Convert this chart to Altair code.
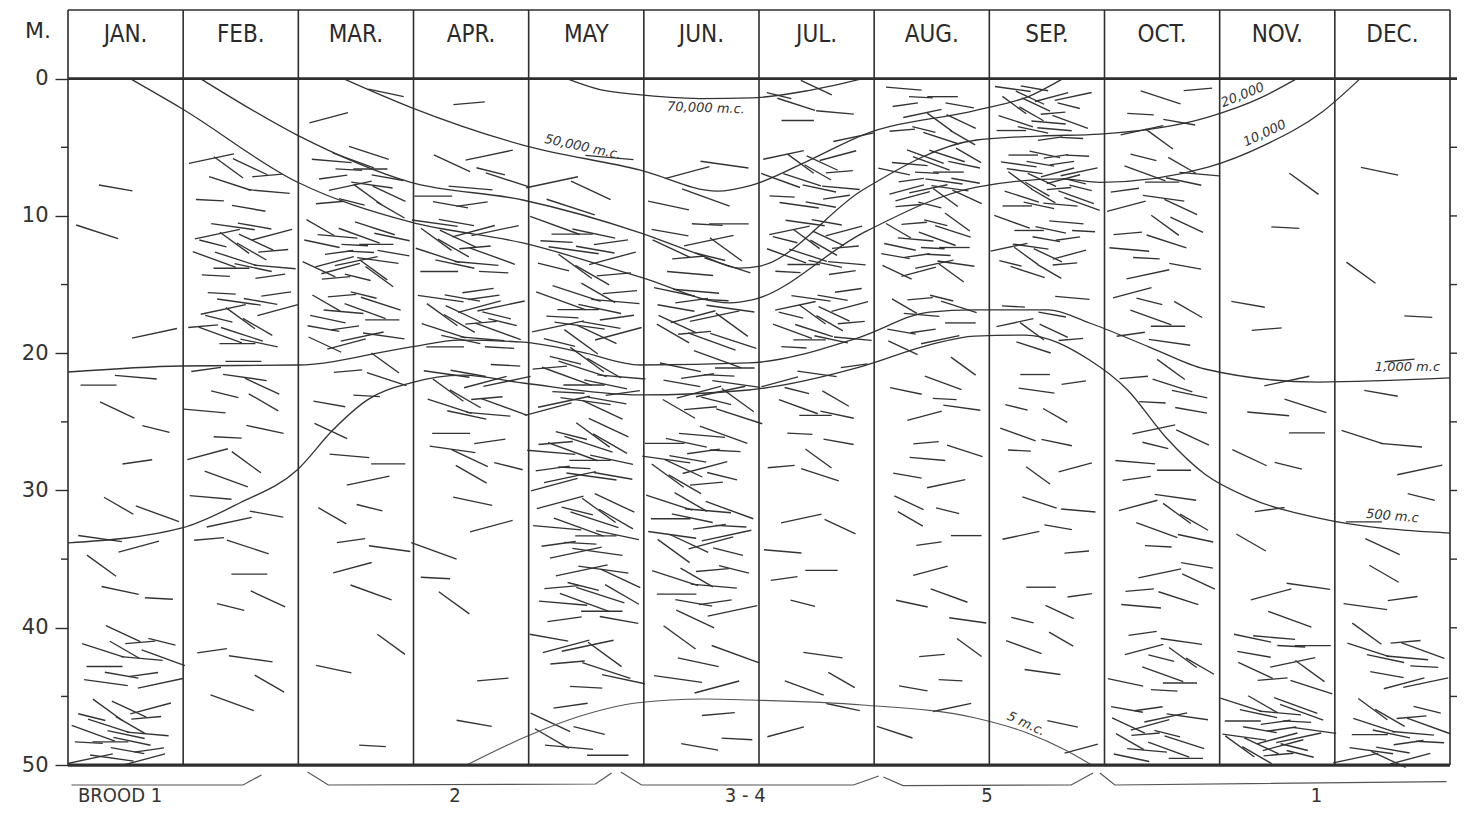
import altair as alt
import pandas as pd

# ---------------- data ----------------
months = ["JAN.", "FEB.", "MAR.", "APR.", "MAY", "JUN.", "JUL.", "AUG.", "SEP.", "OCT.", "NOV.", "DEC."]
depth_labels = [0, 10, 20, 30, 40, 50]
minor_left = [5, 15, 25, 35, 45]
right_ticks = [5, 10, 15, 20, 25, 30, 35, 40, 45]

# dashes counted per month (rows) and per 5 m depth band 0-5 ... 45-50 (columns)
dash_counts = [
    [0, 1, 1, 1, 3, 2, 4, 3, 12, 18],    # JAN
    [0, 8, 16, 14, 7, 5, 5, 3, 3, 1],    # FEB
    [2, 14, 20, 14, 5, 4, 4, 2, 2, 1],   # MAR
    [1, 8, 14, 18, 12, 6, 3, 2, 1, 1],   # APR
    [0, 4, 12, 16, 16, 16, 14, 12, 8, 6],# MAY
    [0, 4, 10, 14, 14, 14, 14, 10, 5, 3],# JUN
    [6, 14, 16, 16, 8, 5, 3, 3, 3, 2],   # JUL
    [12, 20, 18, 10, 6, 5, 5, 4, 4, 2],  # AUG
    [18, 24, 16, 8, 5, 5, 5, 4, 3, 2],   # SEP
    [6, 10, 8, 7, 6, 6, 7, 6, 10, 14],   # OCT
    [0, 1, 1, 2, 3, 3, 2, 3, 10, 22],    # NOV
    [0, 1, 1, 1, 2, 3, 3, 3, 10, 16],    # DEC
]
dash_angles = [10, 18, 348, 5, 25, 0, 14, 352, 30, 8, 20, 345, 12, 36, 3, 355]
dash_lengths = [34, 42, 28, 44, 38, 30, 46, 36]
month_dash_scale = [1.0, 1.0, 0.95, 1.05, 1.15, 1.1, 0.9, 0.85, 0.82, 0.95, 1.0, 1.0]

# isolines of light (x in months from 1 Jan, depth in m)
c70_x = [4.33, 4.62, 4.93, 5.49, 5.94, 6.44, 6.90]
c70_d = [0, 0.8, 1.15, 1.45, 1.4, 0.85, 0]
c50k_x = [2.39, 2.97, 3.95, 4.97, 5.64, 5.94, 6.44, 6.90, 7.89, 8.35, 8.64]
c50k_d = [0, 2.07, 4.84, 6.66, 8.19, 7.75, 5.93, 4.11, 2.29, 1.27, 0]
c20k_x = [1.15, 1.99, 2.97, 3.95, 4.97, 5.49, 5.83, 6.01, 6.90, 7.89, 8.44, 8.96, 9.90, 10.35, 10.67]
c20k_d = [0, 4.11, 7.53, 8.84, 11.24, 12.84, 13.8, 13.65, 8.11, 4.47, 4.18, 4.04, 2.8, 1.42, 0]
c10k_x = [0.54, 0.98, 1.99, 2.97, 3.95, 4.97, 5.75, 5.94, 6.90, 7.89, 8.64, 8.96, 9.90, 10.39, 10.89, 11.22]
c10k_d = [0, 2.14, 7.53, 10.44, 11.97, 14.45, 16.34, 16.12, 11.25, 7.9, 7.3, 7.55, 6.44, 4.84, 2.43, 0]
c1k_x = [0, 0.98, 1.99, 2.97, 3.40, 3.95, 4.45, 4.97, 5.91, 6.88, 7.48, 7.87, 8.51, 8.87, 9.39, 9.87, 10.85, 12.0]
c1k_d = [21.37, 20.93, 20.86, 19.55, 19.04, 19.19, 19.91, 20.86, 20.71, 18.82, 17.0, 16.85, 16.85, 17.8, 19.55, 21.15, 22.1, 21.8]
c500_x = [0, 0.99, 1.49, 1.99, 2.30, 2.60, 2.97, 3.43, 3.95, 4.97, 5.91, 6.88, 7.48, 7.87, 8.31, 8.87, 9.20, 9.53, 9.87, 10.26, 10.85, 12.0]
c500_d = [33.82, 32.73, 30.91, 28.5, 25.59, 23.4, 22.17, 21.59, 22.17, 23.04, 22.68, 21.0, 19.4, 18.75, 18.68, 20.5, 22.68, 26.1, 28.8, 30.55, 32.0, 33.1]
c5_x = [3.46, 3.97, 4.45, 4.93, 5.53, 5.92, 6.90, 7.88, 8.33, 8.66, 8.89]
c5_d = [50, 47.96, 46.43, 45.48, 45.19, 45.26, 45.62, 46.57, 47.66, 48.9, 50]

iso_text = ["70,000 m.c.", "50,000 m.c.", "20,000", "10,000", "1,000 m.c", "500 m.c", "5 m.c."]
iso_text_x = [5.54, 4.47, 10.20, 10.39, 11.63, 11.50, 8.32]
iso_text_d = [2.14, 4.98, 1.19, 3.97, 21.0, 31.86, 47.0]
iso_text_angle = [2, 12, 338, 335, 0, 5, 25]

# brood brackets below the bottom
brood_names = ["BROOD 1", "2", "3 - 4", "5", "1"]
brood_label_x = [0.087, 3.36, 5.88, 7.98, 10.84]
brood_x = [[0.03, 1.52, 1.68], [2.08, 2.26, 4.58, 4.72], [4.80, 4.98, 6.82, 7.04],
           [7.08, 7.25, 8.71, 8.90], [8.96, 9.09, 11.97]]
brood_d = [[51.45, 51.45, 50.72], [50.5, 51.45, 51.38, 50.58], [50.5, 51.45, 51.45, 50.8],
           [50.87, 51.5, 51.45, 50.58], [50.58, 51.45, 51.2]]

# ---------------- tables ----------------
INK = "#2e2e2e"
NARROW = "Liberation Sans Narrow, DejaVu Sans Condensed, Roboto Condensed, sans-serif"
W, H = 1382, 799
TOP, BOTTOM = -5, 53.2
n_months = len(months)

xs = alt.Scale(domain=[0, n_months], nice=False, zero=False)
ys = alt.Scale(domain=[TOP, BOTTOM], reverse=True, nice=False, zero=False)
yaxis = alt.Axis(values=depth_labels, title=None, domain=False, grid=False, tickSize=13,
                 tickWidth=1.4, tickColor=INK, labelPadding=7, labelFontSize=21,
                 labelFont="DejaVu Sans", labelColor="#333333", labelBaseline="middle")


def X(f):
    return alt.X(f, type="quantitative", scale=xs, axis=None)


def Y(f):
    return alt.Y(f, type="quantitative", scale=ys, axis=yaxis)


# dashes (organisms): counts from the picture, laid out in each month/depth cell
G1, G2 = 0.7548776662, 0.5698402910
drows = []
k = 0
for mi, counts in enumerate(dash_counts):
    for bi, n in enumerate(counts):
        for i in range(n):
            u = (0.37 + k * G1) % 1.0
            v = (0.61 + k * G2) % 1.0
            L = dash_lengths[(k * 3) % len(dash_lengths)] * month_dash_scale[mi]
            drows.append({"x": mi + 0.17 + 0.66 * u, "d": bi * 5 + 0.4 + 4.2 * v,
                          "angle": dash_angles[k % len(dash_angles)], "size": L * L})
            k += 1
dashes = pd.DataFrame(drows)

curves = []
for name, cx, cd in [("70000", c70_x, c70_d), ("50000", c50k_x, c50k_d), ("20000", c20k_x, c20k_d),
                     ("10000", c10k_x, c10k_d), ("1000", c1k_x, c1k_d), ("500", c500_x, c500_d)]:
    for a, b in zip(cx, cd):
        curves.append({"name": name, "x": a, "d": b})
curves = pd.DataFrame(curves)
curve5 = pd.DataFrame({"x": c5_x, "d": c5_d})

edges = pd.DataFrame({"x": list(range(n_months + 1)), "top": TOP, "bottom": 50})
month_df = pd.DataFrame({"m": months, "x": [i + 0.5 for i in range(n_months)], "d": -3.2})
iso_df = pd.DataFrame({"t": iso_text, "x": iso_text_x, "d": iso_text_d, "a": iso_text_angle})
brow = []
for bi, (bx, bd) in enumerate(zip(brood_x, brood_d)):
    for a, b in zip(bx, bd):
        brow.append({"b": bi, "x": a, "d": b})
brood_df = pd.DataFrame(brow)
brood_lab = pd.DataFrame({"t": brood_names, "x": brood_label_x, "d": 52.25,
                          "al": ["left", "center", "center", "center", "center"]})

# ---------------- layers ----------------
dash_layer = alt.Chart(dashes).mark_point(shape="stroke", filled=False, color="#333333",
                                          strokeWidth=1.35, opacity=1).encode(
    x=X("x"), y=Y("d"), angle=alt.Angle("angle:Q", scale=None), size=alt.Size("size:Q", scale=None))

curve_layer = alt.Chart(curves).mark_line(color="#333333", strokeWidth=1.3, interpolate="monotone").encode(
    x=X("x"), y=Y("d"), detail="name:N")
curve5_layer = alt.Chart(curve5).mark_line(color="#555555", strokeWidth=1.1, interpolate="monotone").encode(
    x=X("x"), y=Y("d"))

vlines = alt.Chart(edges).mark_rule(color=INK, strokeWidth=1.6).encode(x=X("x"), y=Y("top"), y2="bottom")
frame_df = pd.DataFrame({"x0": [0, 0, 0], "x1": [n_months, n_months + 0.1, n_months],
                         "d": [TOP, 0, 50], "w": [1.5, 2.6, 3.2]})
hlines = alt.Chart(frame_df).mark_rule(color=INK).encode(
    x=X("x0"), x2="x1", y=Y("d"), strokeWidth=alt.StrokeWidth("w:Q", scale=None))

minor_l = alt.Chart(pd.DataFrame({"d": minor_left})).mark_rule(color=INK, strokeWidth=1.4).encode(
    x=alt.value(-7), x2=alt.value(0), y=Y("d"))
ticks_r = alt.Chart(pd.DataFrame({"d": right_ticks})).mark_rule(color=INK, strokeWidth=1.4).encode(
    x=alt.value(W), x2=alt.value(W + 8), y=Y("d"))

month_layer = alt.Chart(month_df).mark_text(font=NARROW, fontSize=24, color="#2a2a2a",
                                            baseline="middle").encode(x=X("x"), y=Y("d"), text="m:N")
m_layer = alt.Chart(pd.DataFrame({"t": ["M."], "x": [-0.26], "d": [-3.5]})).mark_text(
    font="DejaVu Sans", fontSize=22, color="#2a2a2a").encode(x=X("x"), y=Y("d"), text="t:N")

iso_layer = alt.Chart(iso_df).mark_text(font="DejaVu Sans", fontSize=13, fontStyle="italic",
                                        color="#333333").encode(
    x=X("x"), y=Y("d"), text="t:N", angle=alt.Angle("a:Q", scale=None))

brood_layer = alt.Chart(brood_df).mark_line(color="#555555", strokeWidth=1.2).encode(
    x=X("x"), y=Y("d"), detail="b:N")
brood_left = alt.Chart(brood_lab[brood_lab.al == "left"]).mark_text(
    font=NARROW, fontSize=20, color="#333333", align="left", baseline="middle").encode(
    x=X("x"), y=Y("d"), text="t:N")
brood_center = alt.Chart(brood_lab[brood_lab.al == "center"]).mark_text(
    font=NARROW, fontSize=20, color="#333333", align="center", baseline="middle").encode(
    x=X("x"), y=Y("d"), text="t:N")

chart = alt.layer(
    dash_layer, curve_layer, curve5_layer, vlines, hlines, minor_l, ticks_r,
    month_layer, m_layer, iso_layer, brood_layer, brood_left, brood_center
).properties(
    width=W, height=H,
    autosize=alt.AutoSizeParams(type="none"),
    padding={"left": 60, "top": 2, "right": 7, "bottom": 0},
    background="white",
).configure_view(stroke=None)

chart.save("out.html", embed_options={"renderer": "svg", "actions": False})
